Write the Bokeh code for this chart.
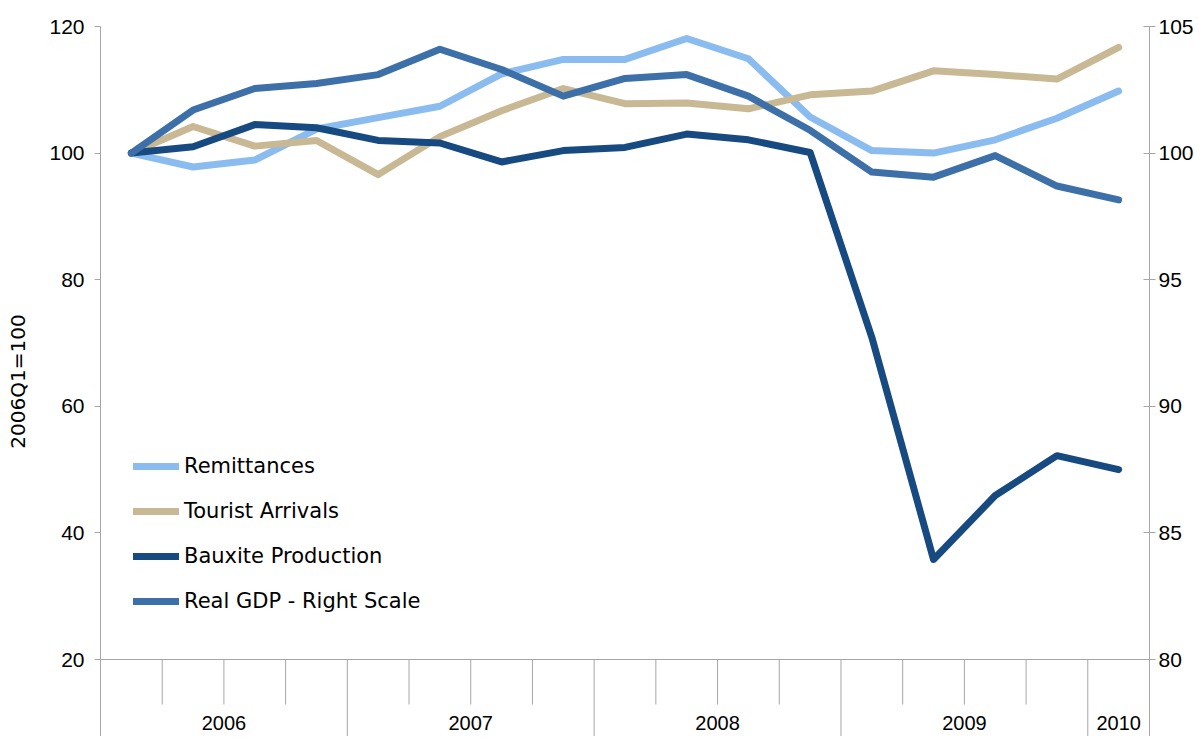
from bokeh.plotting import figure
from bokeh.models import (Range1d, LinearAxis, FixedTicker, Legend, LegendItem,
                          Span)
from bokeh.core.properties import value
from bokeh.embed import file_html
from bokeh.resources import INLINE

# ---------------- data ----------------
quarters = ["2006Q1", "2006Q2", "2006Q3", "2006Q4",
            "2007Q1", "2007Q2", "2007Q3", "2007Q4",
            "2008Q1", "2008Q2", "2008Q3", "2008Q4",
            "2009Q1", "2009Q2", "2009Q3", "2009Q4",
            "2010Q1"]
years = ["2006", "2007", "2008", "2009", "2010"]
quarters_per_year = [4, 4, 4, 4, 1]

remittances = [100.0, 97.8, 98.9, 103.8, 105.6, 107.4, 112.5, 114.8, 114.8,
               118.1, 114.9, 105.7, 100.4, 100.0, 102.1, 105.5, 109.8]
tourist_arrivals = [100.0, 104.2, 101.1, 102.0, 96.6, 102.6, 106.7, 110.2, 107.8,
                    107.9, 107.0, 109.2, 109.8, 113.0, 112.4, 111.7, 116.7]
bauxite_production = [100.0, 101.0, 104.5, 104.0, 102.0, 101.6, 98.6, 100.4, 100.9,
                      103.0, 102.1, 100.1, 70.9, 35.8, 45.9, 52.2, 50.0]
real_gdp = [100.0, 101.7, 102.55, 102.75, 103.1, 104.1, 103.3, 102.25, 102.95,
            103.1, 102.25, 100.9, 99.25, 99.05, 99.9, 98.7, 98.15]

left_ticks = [20, 40, 60, 80, 100, 120]
right_ticks = [80, 85, 90, 95, 100, 105]
y_title = "2006Q1=100"

series = [
    ("Remittances", remittances, "#8BBCF0", None),
    ("Tourist Arrivals", tourist_arrivals, "#C8B894", None),
    ("Bauxite Production", bauxite_production, "#174A80", None),
    ("Real GDP - Right Scale", real_gdp, "#3D70A8", "right"),
]

# ---------------- layout constants ----------------
W, H = 1196, 736
BL, BR, BT, BB = 100, 44, 26, 0
frame_h = H - BT - BB
left_ppu = 633.0 / 100.0      # pixels per unit, left scale
right_ppu = 633.0 / 25.0      # pixels per unit, right scale
left_bottom = left_ticks[-1] - frame_h / left_ppu
right_bottom = right_ticks[-1] - frame_h / right_ppu
AXIS = "#A6A6A6"
FONT = "Liberation Sans"

n = len(quarters)
xs = [i + 0.5 for i in range(n)]

p = figure(width=W, height=H, x_range=Range1d(0, n),
           y_range=Range1d(left_bottom, left_ticks[-1]),
           x_axis_location=None, y_axis_location="left",
           output_backend="svg", toolbar_location=None,
           min_border_left=BL, min_border_right=BR,
           min_border_top=BT, min_border_bottom=BB,
           outline_line_color=None, background_fill_color="white")
p.grid.visible = False
p.extra_y_ranges = {"right": Range1d(right_bottom, right_ticks[-1])}

left = p.yaxis[0]
left.ticker = FixedTicker(ticks=left_ticks)
right = LinearAxis(y_range_name="right", ticker=FixedTicker(ticks=right_ticks))
p.add_layout(right, "right")

for ax, tin, tout, so in ((left, 0, 6, 10), (right, 6, 6, 3)):
    ax.axis_line_color = AXIS
    ax.major_tick_line_color = AXIS
    ax.major_tick_in = tin
    ax.major_tick_out = tout
    ax.minor_tick_in = 0
    ax.minor_tick_out = 0
    ax.major_label_standoff = so
    ax.major_label_text_font = FONT
    ax.major_label_text_font_size = "21px"
    ax.major_label_text_color = "black"

left.axis_label = y_title
left.axis_label_text_font = "DejaVu Sans"
left.axis_label_text_font_size = "20px"
left.axis_label_text_font_style = "normal"
left.axis_label_text_color = "black"
left.axis_label_standoff = 16

# category axis drawn at the 20 level
base = left_ticks[0]
p.add_layout(Span(location=base, dimension="width", line_color=AXIS, line_width=1))

boundaries = []
acc = 0
for q in quarters_per_year:
    acc += q
    boundaries.append(acc)
year_edges = [0] + boundaries
short_x = [b for b in range(1, n) if b not in year_edges]
long_x = [b for b in boundaries if b < n]
short_len = 45 / left_ppu
p.segment(x0=short_x, y0=[base] * len(short_x), x1=short_x,
          y1=[base - short_len] * len(short_x), line_color=AXIS, line_width=1)
p.segment(x0=long_x, y0=[base] * len(long_x), x1=long_x,
          y1=[left_bottom] * len(long_x), line_color=AXIS, line_width=1)

year_centers = [(year_edges[i] + year_edges[i + 1]) / 2 for i in range(len(years))]
p.text(x=year_centers, y=[base - 63 / left_ppu] * len(years), text=years,
       text_align="center", text_baseline="middle",
       text_font=value(FONT), text_font_size="20px", text_color="black")

items = []
for name, vals, col, rng in series:
    kw = {"y_range_name": rng} if rng else {}
    r = p.line(xs, vals, line_color=col, line_width=7,
               line_cap="round", line_join="round", **kw)
    items.append(LegendItem(label=name, renderers=[r]))

legend = Legend(items=items, location=(33, 123), glyph_width=46, glyph_height=24,
                label_height=24, spacing=21, label_standoff=5, padding=0, margin=0,
                border_line_color=None, background_fill_alpha=0,
                label_text_font="DejaVu Sans", label_text_font_size="21px",
                label_text_color="black")
p.add_layout(legend)

open("out.html", "w").write(file_html(p, INLINE))
